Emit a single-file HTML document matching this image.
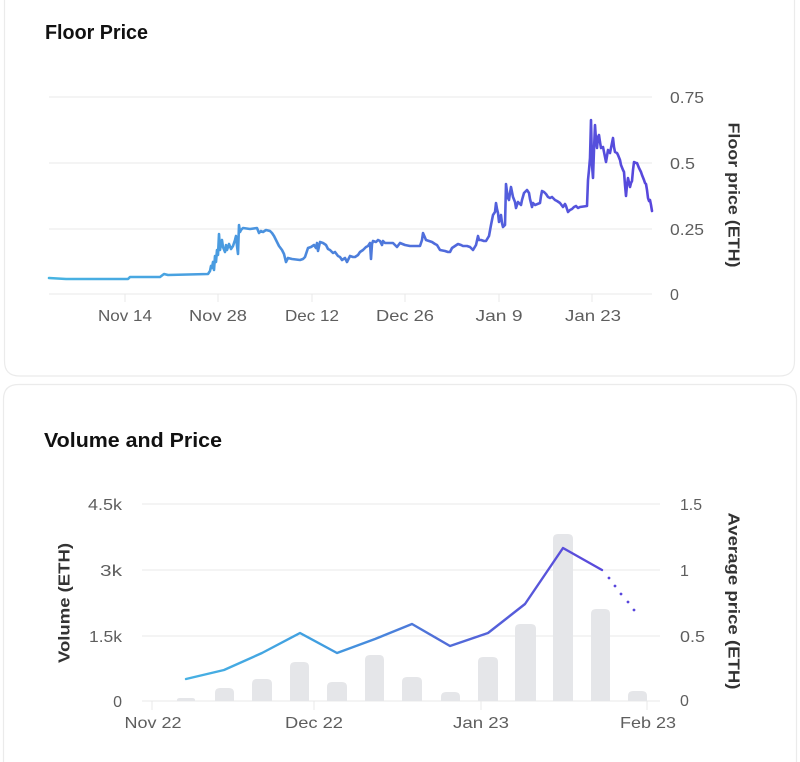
<!DOCTYPE html>
<html>
<head>
<meta charset="utf-8">
<style>
html,body{margin:0;padding:0;background:#fff;width:800px;height:762px;overflow:hidden;}
svg{display:block;}
text{font-family:"Liberation Sans",sans-serif;}
</style>
</head>
<body>
<svg width="800" height="762" viewBox="0 0 800 762" xmlns="http://www.w3.org/2000/svg">
<defs>
<linearGradient id="g1" gradientUnits="userSpaceOnUse" x1="49" y1="0" x2="652" y2="0">
<stop offset="0" stop-color="#47b4e2"/>
<stop offset="0.3" stop-color="#4a9ae0"/>
<stop offset="0.5" stop-color="#4d7edb"/>
<stop offset="0.72" stop-color="#5262dc"/>
<stop offset="1" stop-color="#5846dc"/>
</linearGradient>
<linearGradient id="g2" gradientUnits="userSpaceOnUse" x1="186" y1="0" x2="636" y2="0">
<stop offset="0" stop-color="#47b0e3"/>
<stop offset="0.3" stop-color="#409ee0"/>
<stop offset="0.55" stop-color="#5070d8"/>
<stop offset="0.85" stop-color="#5a4edb"/>
<stop offset="1" stop-color="#5846dc"/>
</linearGradient>
</defs>

<!-- Cards -->
<path d="M4.5,0 V361 Q4.5,376 19.5,376 H779.5 Q794.5,376 794.5,361 V0" fill="#fff" stroke="#ebebeb" stroke-width="1.2"/>
<path d="M3.5,762 V399.5 Q3.5,384.5 18.5,384.5 H781.5 Q796.5,384.5 796.5,399.5 V762" fill="#fff" stroke="#ebebeb" stroke-width="1.2"/>

<!-- ========== Floor Price ========== -->
<text x="45" y="39" font-size="20" font-weight="bold" fill="#111" textLength="103" lengthAdjust="spacingAndGlyphs">Floor Price</text>

<g stroke="#e9e9e9" stroke-width="1">
<line x1="49" y1="97" x2="652" y2="97"/>
<line x1="49" y1="163" x2="652" y2="163"/>
<line x1="49" y1="229" x2="652" y2="229"/>
<line x1="49" y1="294" x2="652" y2="294"/>
<line x1="125" y1="294" x2="125" y2="302"/>
<line x1="218" y1="294" x2="218" y2="302"/>
<line x1="312" y1="294" x2="312" y2="302"/>
<line x1="405" y1="294" x2="405" y2="302"/>
<line x1="499" y1="294" x2="499" y2="302"/>
<line x1="592" y1="294" x2="592" y2="302"/>
</g>

<g font-size="16" fill="#5e5e5e">
<text x="670" y="103" textLength="34" lengthAdjust="spacingAndGlyphs">0.75</text>
<text x="670" y="169" textLength="25" lengthAdjust="spacingAndGlyphs">0.5</text>
<text x="670" y="235" textLength="34" lengthAdjust="spacingAndGlyphs">0.25</text>
<text x="670" y="300">0</text>
</g>
<g font-size="16" fill="#5e5e5e" text-anchor="middle">
<text x="125" y="321" textLength="54" lengthAdjust="spacingAndGlyphs">Nov 14</text>
<text x="218" y="321" textLength="58" lengthAdjust="spacingAndGlyphs">Nov 28</text>
<text x="312" y="321" textLength="54" lengthAdjust="spacingAndGlyphs">Dec 12</text>
<text x="405" y="321" textLength="58" lengthAdjust="spacingAndGlyphs">Dec 26</text>
<text x="499" y="321" textLength="47" lengthAdjust="spacingAndGlyphs">Jan 9</text>
<text x="593" y="321" textLength="56" lengthAdjust="spacingAndGlyphs">Jan 23</text>
</g>
<text transform="translate(733,195) rotate(90)" text-anchor="middle" dominant-baseline="central" font-size="16" font-weight="bold" fill="#333" textLength="145" lengthAdjust="spacingAndGlyphs">Floor price (ETH)</text>

<polyline fill="none" stroke="url(#g1)" stroke-width="2.6" stroke-linejoin="round" stroke-linecap="round" points="49,278 66,279 90,279 128,279 130,277 160,277 164,274 168,275 208,274 210,271 211,266 212,268 213,262 214,270 215,256 216,262 217,250 218,255 219,234 220,250 221,244 222,240 223,247 225,252 226,245 227,250 229,244 231,249 233,246 235,240 236,236 237,246 238,254 239,225 240,232 241,230 243,228 250,229 257,228 259,233 261,231 263,232 266,230 270,231 272,233 274,236 276,240 279,246 282,250 284,254 286,262 288,258 292,259 300,260 303,259 305,257 308,248 311,247 314,245 316,248 317,243 318,251 320,242 323,243 326,245 328,249 330,250 333,253 335,252 338,256 340,257 342,260 345,258 347,262 350,256 353,257 355,257 358,255 360,252 363,250 366,247 368,246 370,243 371,259 372,244 373,241 376,242 378,240 380,241 382,245 383,241 385,243 390,243 393,243 395,245 397,247 400,243 405,245 410,246 415,246 420,246 422,240 423,233 426,240 429,241 432,242 435,244 437,245 440,250 445,251 448,252 450,252 452,248 455,246 458,244 461,245 463,246 467,246 470,247 473,250 476,245 478,236 479,240 481,240 484,241 486,241 489,236 491,225 493,215 495,212 496,203 497,209 498,213 499,222 501,215 502,223 503,227 505,225 506,184 507,192 508,198 509,200 510,193 511,187 512,192 513,197 515,202 516,208 518,202 521,205 522,200 524,193 527,190 529,193 530,199 532,207 533,203 535,205 540,203 541,196 542,191 544,192 546,194 548,197 550,198 552,197 555,200 557,201 560,203 563,207 565,204 566,206 568,212 570,210 572,209 574,207 576,206 578,208 580,207 587,206 588,180 589,170 590,158 591,120 592,165 593,178 594,150 595,125 596,140 597,148 598,137 599,135 600,142 601,148 603,147 604,152 606,162 608,150 610,153 611,148 613,138 614,147 615,152 617,153 618,155 620,160 621,165 623,170 624,172 625,185 626,196 627,185 628,178 630,187 631,183 632,181 633,170 634,162 636,163 637,163 639,168 641,172 642,175 644,180 645,183 646,184 647,190 648,198 649,201 650,200 651,205 652,211"/>

<!-- ========== Volume and Price ========== -->
<text x="44" y="447" font-size="20" font-weight="bold" fill="#111" textLength="178" lengthAdjust="spacingAndGlyphs">Volume and Price</text>

<g stroke="#e9e9e9" stroke-width="1">
<line x1="142" y1="504" x2="660" y2="504"/>
<line x1="142" y1="570" x2="660" y2="570"/>
<line x1="142" y1="636" x2="660" y2="636"/>
<line x1="142" y1="701" x2="660" y2="701"/>
<line x1="152" y1="701" x2="152" y2="710"/>
<line x1="314" y1="701" x2="314" y2="710"/>
<line x1="481" y1="701" x2="481" y2="710"/>
<line x1="647" y1="701" x2="647" y2="710"/>
</g>

<g font-size="16" fill="#5e5e5e" text-anchor="end">
<text x="122" y="510" textLength="34" lengthAdjust="spacingAndGlyphs">4.5k</text>
<text x="122" y="576" textLength="22" lengthAdjust="spacingAndGlyphs">3k</text>
<text x="122" y="642" textLength="33" lengthAdjust="spacingAndGlyphs">1.5k</text>
<text x="122" y="707">0</text>
</g>
<g font-size="16" fill="#5e5e5e">
<text x="680" y="510" textLength="22" lengthAdjust="spacingAndGlyphs">1.5</text>
<text x="680" y="576">1</text>
<text x="680" y="642" textLength="25" lengthAdjust="spacingAndGlyphs">0.5</text>
<text x="680" y="706">0</text>
</g>
<g font-size="16" fill="#5e5e5e" text-anchor="middle">
<text x="153" y="728" textLength="57" lengthAdjust="spacingAndGlyphs">Nov 22</text>
<text x="314" y="728" textLength="58" lengthAdjust="spacingAndGlyphs">Dec 22</text>
<text x="481" y="728" textLength="56" lengthAdjust="spacingAndGlyphs">Jan 23</text>
<text x="648" y="728" textLength="56" lengthAdjust="spacingAndGlyphs">Feb 23</text>
</g>
<text transform="translate(65,603) rotate(-90)" text-anchor="middle" dominant-baseline="central" font-size="16" font-weight="bold" fill="#333" textLength="120" lengthAdjust="spacingAndGlyphs">Volume (ETH)</text>
<text transform="translate(733,601) rotate(90)" text-anchor="middle" dominant-baseline="central" font-size="16" font-weight="bold" fill="#333" textLength="177" lengthAdjust="spacingAndGlyphs">Average price (ETH)</text>

<!-- bars -->
<g fill="#e5e6e9">
<path d="M177,701 V700 Q177,698 180,698 H192 Q195,698 195,700 V701 Z"/>
<path d="M215,701 V693 Q215,688 220,688 H229 Q234,688 234,693 V701 Z"/>
<path d="M252,701 V684 Q252,679 257,679 H267 Q272,679 272,684 V701 Z"/>
<path d="M290,701 V667 Q290,662 295,662 H304 Q309,662 309,667 V701 Z"/>
<path d="M327,701 V687 Q327,682 332,682 H342 Q347,682 347,687 V701 Z"/>
<path d="M365,701 V660 Q365,655 370,655 H379 Q384,655 384,660 V701 Z"/>
<path d="M402,701 V682 Q402,677 407,677 H417 Q422,677 422,682 V701 Z"/>
<path d="M441,701 V697 Q441,692 446,692 H455 Q460,692 460,697 V701 Z"/>
<path d="M478,701 V662 Q478,657 483,657 H493 Q498,657 498,662 V701 Z"/>
<path d="M515,701 V629 Q515,624 520,624 H531 Q536,624 536,629 V701 Z"/>
<path d="M553,701 V539 Q553,534 558,534 H568 Q573,534 573,539 V701 Z"/>
<path d="M591,701 V614 Q591,609 596,609 H605 Q610,609 610,614 V701 Z"/>
<path d="M628,701 V696 Q628,691 633,691 H642 Q647,691 647,696 V701 Z"/>
</g>

<polyline fill="none" stroke="url(#g2)" stroke-width="2.4" stroke-linejoin="round" stroke-linecap="round" points="186,679 224,670 262,653 300,633 337,653 375,639 412,624 450,646 488,633 525,604 563,548 602,570"/>
<g fill="#5846dc">
<circle cx="609" cy="578" r="1.4"/>
<circle cx="615" cy="586" r="1.4"/>
<circle cx="621" cy="594" r="1.4"/>
<circle cx="628" cy="602" r="1.4"/>
<circle cx="634" cy="610" r="1.4"/>
</g>
</svg>
</body>
</html>
